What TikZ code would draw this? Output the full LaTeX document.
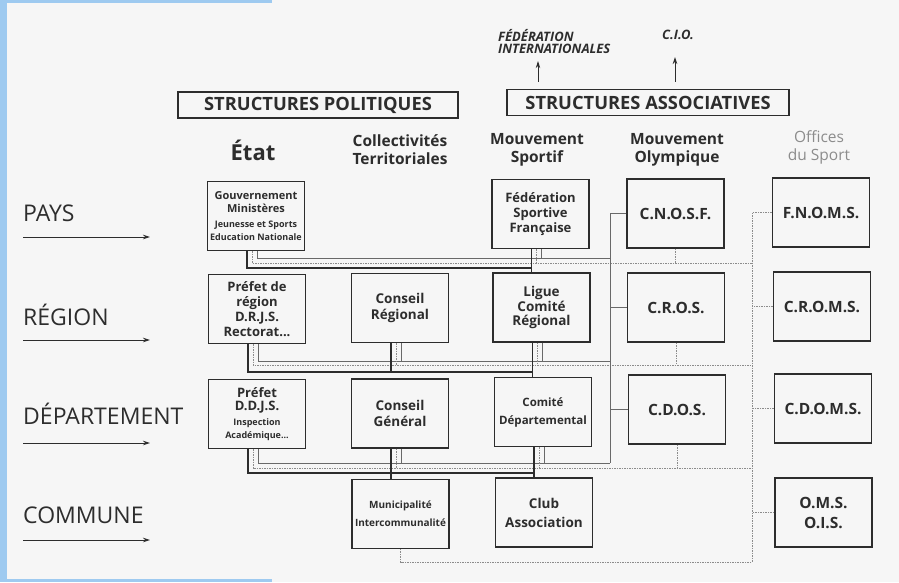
\documentclass[tikz,border=0pt]{standalone}
\usepackage{fontspec}
\setmainfont{Open Sans}
\usepackage{tikz}
\usetikzlibrary{arrows.meta,calc}
\definecolor{fond}{RGB}{246,246,246}
\definecolor{bleu}{RGB}{158,202,240}
\definecolor{encre}{RGB}{45,45,45}
\definecolor{gristrait}{RGB}{105,105,105}
\definecolor{grisclair}{RGB}{140,140,140}
\newcommand{\ptxt}[1]{{\fontsize{9}{10.5}\selectfont #1}}

\tikzset{
  cadre/.style={draw=encre, line width=1.3pt, minimum width=97pt, minimum height=69pt,
    inner sep=0pt, align=center, text=encre, font=\bfseries\fontsize{15.5}{17}\selectfont},
  titre/.style={draw=encre, line width=1.2pt, minimum height=26pt, text=encre,
    font=\bfseries\fontsize{18.3}{19}\selectfont},
  colonne/.style={align=center, text=encre, font=\bfseries\fontsize{15.5}{18}\selectfont},
  niveau/.style={anchor=base west, inner sep=0pt, text=encre, font=\fontsize{23}{25}\selectfont},
  tutelle/.style={draw=encre, line width=1.1pt},
  liaison/.style={draw=gristrait, line width=0.8pt},
  pointille/.style={draw=grisclair, line width=0.8pt, dash pattern=on 1.5pt off 1pt},
  fleche/.style={encre, line width=0.8pt, -{Stealth[length=7pt,width=4.5pt]}},
}

\begin{document}
\begin{tikzpicture}[x=1pt,y=-1pt]
\useasboundingbox (0,0) rectangle (899,582);
\fill[fond] (0,0) rectangle (899,582);
\fill[bleu] (0,0) rectangle (7,582);
\fill[bleu] (0,0) rectangle (272,3);
\fill[bleu] (0,579) rectangle (272,582);

% titres
\node[titre, minimum width=280pt] (pol) at (318,105) {STRUCTURES POLITIQUES};
\node[titre, minimum width=282pt] (asso) at (648,102.5) {STRUCTURES ASSOCIATIVES};
\node[align=left, anchor=north west, inner sep=0pt, text=encre,
  font=\bfseries\itshape\fontsize{13}{12.5}\selectfont] (fi) at (498,29) {FÉDÉRATION\\INTERNATIONALES};
\node[anchor=north west, inner sep=0pt, text=encre,
  font=\bfseries\itshape\fontsize{13}{12.5}\selectfont] (cio) at (662,30) {C.I.O.};
\coordinate (pfi) at ([xshift=-110pt]asso.north);
\coordinate (pcio) at ([xshift=27pt]asso.north);
\draw[fleche, shorten <=7pt, shorten >=7pt] (pfi) -- (pfi |- fi.south);
\draw[fleche, shorten <=7pt, shorten >=17pt] (pcio) -- (pcio |- cio.south);

\node[colonne, font=\bfseries\fontsize{22}{24}\selectfont] (etat) at (253,150) {État};
\node[colonne] (coll) at (400,150) {Collectivités\\Territoriales};
\node[colonne] (msp) at (537,150) {Mouvement\\Sportif};
\node[colonne] (mol) at (677,150) {Mouvement\\Olympique};
\node[colonne, text=grisclair, font=\fontsize{15.5}{18}\selectfont] (offs) at (819,147) {Offices\\du Sport};

% niveaux
\foreach \nom/\txt/\yy/\dy in {pays/PAYS/221/16, region/RÉGION/325/15,
    dep/DÉPARTEMENT/424/19, commune/COMMUNE/523/17}{
  \node[niveau] (\nom) at (23,\yy) {\txt};
  \draw[fleche] (\nom.base west) ++(0,\dy) -- ++(127,0);
}

% etat
\node[cadre, font=\bfseries\fontsize{11}{13}\selectfont] (gouv) at (256,216)
  {Gouvernement\\Ministères\\[2pt]\ptxt{Jeunesse et Sports}\\\ptxt{Education Nationale}};
\node[cadre, font=\bfseries\fontsize{13}{15}\selectfont] (prefr) at (257,309)
  {Préfet de\\région\\D.R.J.S.\\Rectorat...};
\node[cadre, font=\bfseries\fontsize{13}{13}\selectfont] (prefd) at (257,414)
  {Préfet\\D.D.J.S.\\[2pt]\ptxt{Inspection}\\\ptxt{Académique...}};
% collectivites
\node[cadre, font=\bfseries\fontsize{13.5}{16}\selectfont] (consr) at (400,308) {Conseil\\Régional};
\node[cadre, font=\bfseries\fontsize{13.5}{16}\selectfont] (consg) at (400,413.5) {Conseil\\Général};
\node[cadre, font=\bfseries\fontsize{10}{12}\selectfont] (muni) at (400.5,514)
  {Municipalité\\[6pt]Intercommunalité};
% mouvement sportif
\node[cadre, font=\bfseries\fontsize{13}{15}\selectfont] (fed) at (540.5,214)
  {Fédération\\Sportive\\Française};
\node[cadre, font=\bfseries\fontsize{13.5}{14.5}\selectfont] (ligue) at (541.5,307.5)
  {Ligue\\Comité\\Régional};
\node[cadre, font=\bfseries\fontsize{11.5}{12}\selectfont] (comd) at (543,412)
  {Comité\\[6pt]Départemental};
\node[cadre, font=\bfseries\fontsize{13.5}{16}\selectfont] (club) at (544,512.5) {Club\\[3pt]Association};
% mouvement olympique
\node[cadre] (cnosf) at (675.5,213.5) {C.N.O.S.F.};
\node[cadre] (cros) at (676,307.5) {C.R.O.S.};
\node[cadre] (cdos) at (677,409.5) {C.D.O.S.};
% offices du sport
\node[cadre] (fnoms) at (821,212.5) {F.N.O.M.S.};
\node[cadre] (croms) at (822,306.5) {C.R.O.M.S.};
\node[cadre] (cdoms) at (823,408.5) {C.D.O.M.S.};
\node[cadre] (oms) at (823.5,512.5) {O.M.S.\\[3pt]O.I.S.};

% points de depart des liaisons
\foreach \b in {gouv,prefr,prefd,consr,consg,fed,ligue,comd}{
  \coordinate (\b-1) at ([xshift=-9pt]\b.south);
  \coordinate (\b-2) at ([xshift=-4pt]\b.south);
  \coordinate (\b-3) at ([xshift=1pt]\b.south);
}
\coordinate (pA) at (0,258); \coordinate (pB) at (0,263); \coordinate (pC) at (0,268);
\coordinate (rA) at (0,361); \coordinate (rB) at (0,365); \coordinate (rC) at (0,372);
\coordinate (dA) at (0,463); \coordinate (dB) at (0,468); \coordinate (dC) at (0,473);
\coordinate (olv) at (610,0);
\coordinate (ofv) at (752,0);
\coordinate (bas) at (752,562);

% pays -> region
\draw[tutelle] (gouv-1) |- (fed-1 |- pC);
\draw[pointille] (gouv-2) |- (ofv |- pB);
\draw[liaison] (gouv-3) |- (olv |- pA);
\draw[tutelle] (fed-1) -- (fed-1 |- ligue.north);
\draw[pointille] (fed-2) -- (fed-2 |- pB);
\draw[liaison] (fed-3) -- (fed-3 |- pA);
\draw[pointille] (cnosf.south) -- (cnosf.south |- pB);

% region -> departement
\draw[tutelle] (prefr-1) |- (ligue-1 |- rC);
\draw[pointille] (prefr-2) |- (ofv |- rB);
\draw[liaison] (prefr-3) |- (olv |- rA);
\draw[tutelle] (consr-1) -- (consr-1 |- rC);
\draw[pointille] (consr-2) -- (consr-2 |- rB);
\draw[liaison] (consr-3) -- (consr-3 |- rA);
\draw[tutelle] (ligue-1) -- (ligue-1 |- comd.north);
\draw[pointille] (ligue-2) -- (ligue-2 |- rB);
\draw[liaison] (ligue-3) -- (ligue-3 |- rA);
\draw[pointille] (cros.south) -- (cros.south |- rB);

% departement -> commune
\draw[tutelle] (prefd-1) |- (comd-1 |- dC);
\draw[pointille] (prefd-2) |- (ofv |- dB);
\draw[liaison] (prefd-3) |- (olv |- dA);
\draw[tutelle] (consg-1) -- (consg-1 |- muni.north);
\draw[pointille] (consg-2) -- (consg-2 |- dB);
\draw[liaison] (consg-3) -- (consg-3 |- dA);
\draw[tutelle] (comd-1) -- (comd-1 |- club.north);
\draw[pointille] (comd-2) -- (comd-2 |- dB);
\draw[liaison] (comd-3) -- (comd-3 |- dA);
\draw[pointille] (cdos.south) -- (cdos.south |- dB);

% colonnes olympique et offices
\draw[liaison] (cnosf.west) -| (olv |- dA);
\draw[liaison] (cros.west) -- (cros.west -| olv);
\draw[liaison] (cdos.west) -- (cdos.west -| olv);
\draw[pointille] (fnoms.west) -| (bas) -| (muni.south);
\draw[pointille] (croms.west) -- (croms.west -| ofv);
\draw[pointille] (cdoms.west) -- (cdoms.west -| ofv);
\draw[pointille] (oms.west) -- (oms.west -| ofv);
\end{tikzpicture}
\end{document}
